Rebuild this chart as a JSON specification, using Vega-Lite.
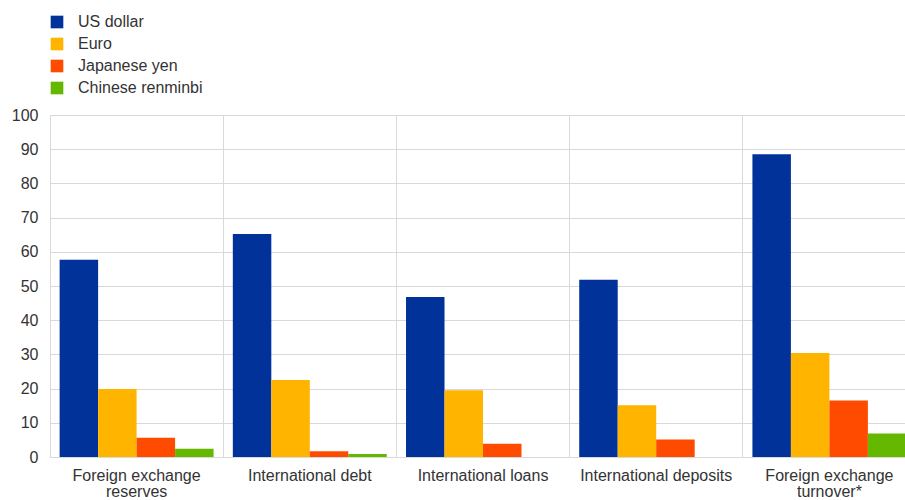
{
  "$schema": "https://vega.github.io/schema/vega-lite/v6.json",
  "width": 866,
  "height": 342,
  "autosize": {"type": "none"},
  "padding": {"left": 50, "top": 115, "right": 0, "bottom": 43},
  "config": {
    "font": "Liberation Sans",
    "view": {"stroke": null},
    "axis": {"labelFont": "Liberation Sans", "labelFontSize": 16, "labelColor": "#333333", "gridColor": "#d9d9d9", "domainColor": "#d9d9d9", "ticks": false, "title": null}
  },
  "data": {
    "values": [
      {"category": "Foreign exchange reserves", "currency": "US dollar", "value": 57.7},
      {"category": "Foreign exchange reserves", "currency": "Euro", "value": 19.9},
      {"category": "Foreign exchange reserves", "currency": "Japanese yen", "value": 5.6},
      {"category": "Foreign exchange reserves", "currency": "Chinese renminbi", "value": 2.4},
      {"category": "International debt", "currency": "US dollar", "value": 65.2},
      {"category": "International debt", "currency": "Euro", "value": 22.5},
      {"category": "International debt", "currency": "Japanese yen", "value": 1.7},
      {"category": "International debt", "currency": "Chinese renminbi", "value": 0.9},
      {"category": "International loans", "currency": "US dollar", "value": 46.8},
      {"category": "International loans", "currency": "Euro", "value": 19.5},
      {"category": "International loans", "currency": "Japanese yen", "value": 3.9},
      {"category": "International loans", "currency": "Chinese renminbi", "value": 0},
      {"category": "International deposits", "currency": "US dollar", "value": 51.8},
      {"category": "International deposits", "currency": "Euro", "value": 15.1},
      {"category": "International deposits", "currency": "Japanese yen", "value": 5.1},
      {"category": "International deposits", "currency": "Chinese renminbi", "value": 0},
      {"category": "Foreign exchange turnover*", "currency": "US dollar", "value": 88.5},
      {"category": "Foreign exchange turnover*", "currency": "Euro", "value": 30.4},
      {"category": "Foreign exchange turnover*", "currency": "Japanese yen", "value": 16.5},
      {"category": "Foreign exchange turnover*", "currency": "Chinese renminbi", "value": 6.9}
    ]
  },
  "mark": {"type": "bar"},
  "encoding": {
    "x": {
      "field": "category",
      "type": "nominal",
      "sort": null,
      "scale": {"paddingInner": 0, "paddingOuter": 0},
      "axis": {
        "labelAngle": 0,
        "labelPadding": 10,
        "grid": true,
        "bandPosition": 0,
        "labelExpr": "datum.value == 'Foreign exchange reserves' ? ['Foreign exchange', 'reserves'] : datum.value == 'Foreign exchange turnover*' ? ['Foreign exchange', 'turnover*'] : datum.value",
        "labelLineHeight": 16
      }
    },
    "xOffset": {
      "field": "currency",
      "type": "nominal",
      "sort": ["US dollar", "Euro", "Japanese yen", "Chinese renminbi"],
      "scale": {"paddingInner": 0, "paddingOuter": 0.25}
    },
    "y": {
      "field": "value",
      "type": "quantitative",
      "scale": {"domain": [0, 100]},
      "axis": {"values": [0,10,20,30,40,50,60,70,80,90,100], "labelOverlap": false, "labelPadding": 12, "grid": true}
    },
    "color": {
      "field": "currency",
      "type": "nominal",
      "sort": ["US dollar", "Euro", "Japanese yen", "Chinese renminbi"],
      "scale": {"domain": ["US dollar", "Euro", "Japanese yen", "Chinese renminbi"], "range": ["#003299", "#FFB400", "#FF4B00", "#65B800"]},
      "legend": {
        "title": null,
        "orient": "none",
        "legendX": -1,
        "legendY": -101,
        "symbolType": "square",
        "symbolSize": 160,
        "symbolStrokeWidth": 0,
        "labelFontSize": 16,
        "labelColor": "#333333",
        "labelOffset": 13,
        "rowPadding": 6
      }
    }
  }
}
